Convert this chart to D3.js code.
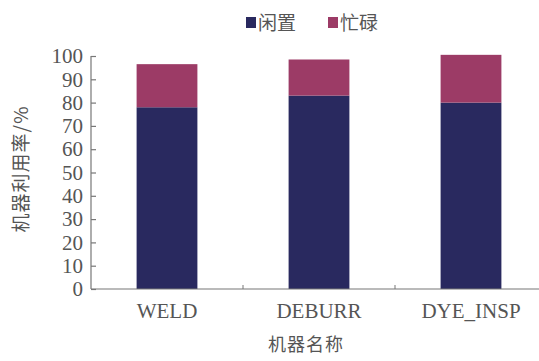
<!DOCTYPE html>
<html>
<head>
<meta charset="utf-8">
<script src="https://cdn.jsdelivr.net/npm/d3@7"></script>
<style>
  html, body { margin: 0; padding: 0; background: #fff; }
  svg { display: block; }
  .serif { font-family: "Liberation Serif", "Times New Roman", "DejaVu Serif", serif; }
  .cjk { font-family: "Noto Sans CJK SC", sans-serif; }
</style>
</head>
<body>
<svg id="chart" width="539" height="361"></svg>
<script>
// Machine utilisation per machine, stacked: idle (bottom) + busy (top), in %
const categories = ["WELD", "DEBURR", "DYE_INSP"];
const idleValues = [78, 83, 80];
const busyValues = [18.5, 15.5, 20.5];
const seriesNames = ["闲置", "忙碌"];
const yTicks = [0, 10, 20, 30, 40, 50, 60, 70, 80, 90, 100];

const colors = ["#29295f", "#9c3b66"];
const textColor = "#555";
const axisColor = "#777";

const svg = d3.select("#chart");
const plotLeft = 91, plotRight = 547, plotTop = 56, plotBottom = 289;

const x = d3.scaleBand().domain(categories).range([plotLeft, plotRight]).padding(0);
const y = d3.scaleLinear().domain([0, 100]).range([plotBottom, plotTop]);

const rows = categories.map((c, i) => ({ cat: c, idle: idleValues[i], busy: busyValues[i] }));
const stack = d3.stack().keys(["idle", "busy"]);
const layers = stack(rows);

const barW = x.bandwidth() * 0.4;

// stacked bars
svg.append("g").selectAll("g")
  .data(layers)
  .join("g")
  .attr("fill", (d, i) => colors[i])
  .selectAll("rect")
  .data(d => d)
  .join("rect")
  .attr("x", d => x(d.data.cat) + (x.bandwidth() - barW) / 2)
  .attr("width", barW)
  .attr("y", d => y(d[1]))
  .attr("height", d => y(d[0]) - y(d[1]));

// y axis with inward ticks
const yAxis = svg.append("g")
  .attr("transform", `translate(${plotLeft},0)`)
  .call(d3.axisLeft(y).tickValues(yTicks).tickSize(-5).tickPadding(8))
  .attr("font-family", null)
  .attr("font-size", null);
yAxis.select(".domain").attr("d", `M0,${y(100)}V${y(0)}`);
yAxis.selectAll("line, path").attr("stroke", axisColor).attr("stroke-width", 1.2);
yAxis.selectAll("text")
  .attr("class", "serif")
  .attr("fill", textColor)
  .attr("font-size", 21);

// x axis: baseline plus ticks at the band boundaries
const xAxis = svg.append("g");
xAxis.append("line")
  .attr("x1", plotLeft).attr("x2", 539)
  .attr("y1", y(0)).attr("y2", y(0))
  .attr("stroke", axisColor).attr("stroke-width", 1.2);
xAxis.selectAll("line.tick")
  .data(categories.slice(1))
  .join("line")
  .attr("class", "tick")
  .attr("x1", d => x(d)).attr("x2", d => x(d))
  .attr("y1", y(0)).attr("y2", y(0) - 4)
  .attr("stroke", axisColor).attr("stroke-width", 1);
xAxis.selectAll("text")
  .data(categories)
  .join("text")
  .attr("class", "serif")
  .attr("x", d => x(d) + x.bandwidth() / 2)
  .attr("y", 318)
  .attr("text-anchor", "middle")
  .attr("fill", textColor)
  .attr("font-size", 21)
  .text(d => d);

// axis titles
svg.append("text")
  .attr("class", "cjk")
  .attr("x", 306).attr("y", 351)
  .attr("text-anchor", "middle")
  .attr("fill", textColor)
  .attr("font-size", 18)
  .style("letter-spacing", "1px")
  .text("机器名称");

svg.append("text")
  .attr("class", "cjk")
  .attr("transform", "translate(28,169) rotate(-90)")
  .attr("text-anchor", "middle")
  .attr("fill", textColor)
  .attr("font-size", 19)
  .style("letter-spacing", "1px")
  .text("机器利用率/%");

// legend
const legendPos = [246, 328];
const legend = svg.append("g").selectAll("g")
  .data(seriesNames)
  .join("g")
  .attr("transform", (d, i) => `translate(${legendPos[i]},0)`);
legend.append("rect")
  .attr("x", 0).attr("y", 17).attr("width", 10).attr("height", 11)
  .attr("fill", (d, i) => colors[i]);
legend.append("text")
  .attr("class", "cjk")
  .attr("x", 12).attr("y", 30)
  .attr("fill", textColor)
  .attr("font-size", 19)
  .text(d => d);
</script>
</body>
</html>
